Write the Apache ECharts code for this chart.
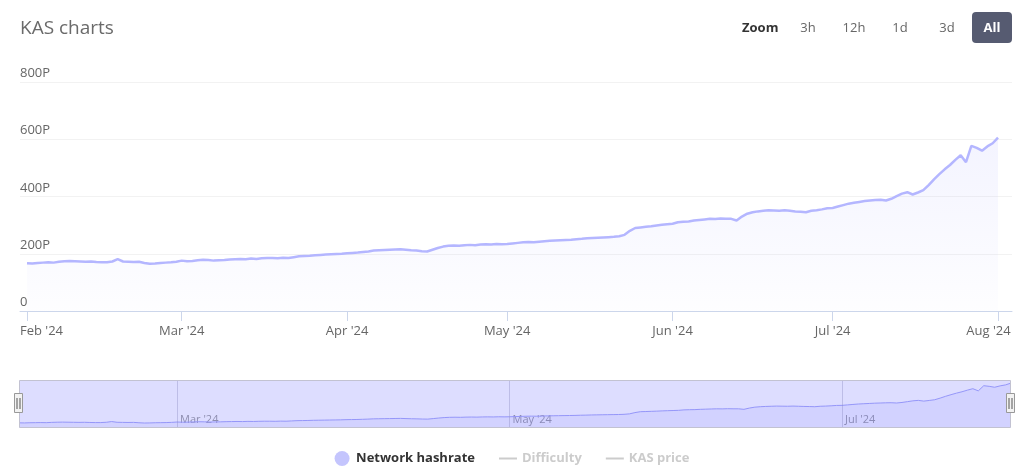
<!DOCTYPE html>
<html>
<head>
<meta charset="utf-8">
<script src="https://cdn.jsdelivr.net/npm/echarts@6/dist/echarts.min.js"></script>
<style>
  html, body { margin: 0; padding: 0; background: #ffffff; }
  #chart { width: 1024px; height: 476px; }
</style>
</head>
<body>
<div id="chart"></div>
<script>
// Day 0 = 1 Feb 2024, one value per day (PH/s)
const hashrate = [
  // Feb
  167,166,168,169,170,169,172,174,175,174,173,172,173,171,170,170,173,181,173,172,171,172,168,165,166,168,169,170,172,
  // Mar
  176,174,175,177,179,178,176,177,178,180,181,182,181,183,182,184,185,185,184,186,185,188,191,192,193,195,196,197,198,199,200,
  // Apr
  202,203,204,206,208,211,212,213,214,215,216,214,212,211,209,208,214,220,225,228,229,228,230,231,230,232,233,232,234,233,
  // May
  234,236,238,240,241,240,242,244,245,246,247,248,249,251,252,254,255,256,257,258,259,261,266,280,290,292,294,296,299,301,303,
  // Jun
  305,310,312,313,316,318,320,322,321,323,322,322,316,330,340,345,348,350,352,351,350,352,350,348,347,345,350,352,355,359,
  // Jul
  360,365,370,375,378,381,384,386,388,389,386,392,401,410,415,407,414,422,440,460,478,495,510,528,544,520,577,570,560,575,586,
  // Aug
  606
];
const monthTicks = [0, 29, 60, 90, 121, 151, 182];
const monthLabels = ["Feb '24", "Mar '24", "Apr '24", "May '24", "Jun '24", "Jul '24", "Aug '24"];
const navTicks = [29, 90, 151];
const yTicks = [0, 200, 400, 600, 800];
const legendNames = ['Network hashrate', 'Difficulty', 'KAS price'];
const zoomButtons = ['3h', '12h', '1d', '3d', 'All'];

const FONT = "'Open Sans', 'Noto Sans', sans-serif";
const seriesData = hashrate.map((v, i) => [i, v]);
const labelFor = v => { const i = monthTicks.indexOf(Math.round(v)); return i >= 0 ? monthLabels[i] : ''; };

const chart = echarts.init(document.getElementById('chart'), null, { renderer: 'canvas' });

const btnX = [808, 854, 900, 947, 992];
const graphics = [
  { type: 'text', x: 20, y: 29, style: { text: 'KAS charts', fill: '#6a6a6a', font: '19px ' + FONT, verticalAlign: 'middle', align: 'left' } },
  { type: 'text', x: 742, y: 28, style: { text: 'Zoom', fill: '#333', font: 'bold 13px ' + FONT, verticalAlign: 'middle', align: 'left' } },
  { type: 'rect', shape: { x: 972, y: 12, width: 40, height: 31, r: 4 }, style: { fill: '#565b71' } }
];
zoomButtons.forEach((b, i) => {
  const isAll = b === 'All';
  graphics.push({ type: 'text', x: btnX[i], y: 28, z: 10,
    style: { text: b, fill: isAll ? '#fff' : '#666', font: (isAll ? 'bold ' : '') + '13px ' + FONT, align: 'center', verticalAlign: 'middle' } });
});
// navigator mask + handles
graphics.push({ type: 'rect', z: 20, silent: true, shape: { x: 19.5, y: 380.5, width: 991, height: 47 },
  style: { fill: 'rgba(102,102,255,0.22)', stroke: '#c2c2d2', lineWidth: 1 } });
[14.5, 1006.5].forEach(hx => {
  graphics.push({ type: 'rect', z: 21, shape: { x: hx, y: 393.5, width: 8, height: 19 }, style: { fill: '#f2f2f2', stroke: '#999', lineWidth: 1 } });
  graphics.push({ type: 'line', z: 22, shape: { x1: hx + 2.5, y1: 398, x2: hx + 2.5, y2: 409 }, style: { stroke: '#555', lineWidth: 1 } });
  graphics.push({ type: 'line', z: 22, shape: { x1: hx + 5.5, y1: 398, x2: hx + 5.5, y2: 409 }, style: { stroke: '#555', lineWidth: 1 } });
});

const lineIcon = 'path://M0,0H18V2H0Z';

chart.setOption({
  animation: false,
  backgroundColor: '#ffffff',
  textStyle: { fontFamily: FONT },
  graphic: graphics,
  legend: {
    bottom: 5,
    left: 'center',
    itemWidth: 18,
    itemHeight: 15,
    itemGap: 24,
    inactiveColor: '#cccccc',
    textStyle: { fontFamily: FONT, fontSize: 13, fontWeight: 'bold', color: '#333' },
    data: [
      { name: legendNames[0], icon: 'circle', itemStyle: { color: '#c4c5fd' } },
      { name: legendNames[1], icon: lineIcon },
      { name: legendNames[2], icon: lineIcon }
    ],
    selected: { 'Difficulty': false, 'KAS price': false }
  },
  grid: [
    { left: 20, right: 12, top: 82, bottom: 165, containLabel: false },
    { left: 19, right: 13, top: 380, height: 48, containLabel: false }
  ],
  xAxis: [
    {
      type: 'value', gridIndex: 0, min: -1.31, max: 184.62,
      axisLine: { show: true, lineStyle: { color: '#ccd6eb', width: 1 } },
      axisTick: { show: true, length: 10, customValues: monthTicks, lineStyle: { color: '#ccd6eb' } },
      splitLine: { show: false },
      axisLabel: {
        customValues: monthTicks, margin: 14, color: '#666', fontSize: 13, fontFamily: FONT,
        formatter: v => {
          const t = labelFor(v);
          if (Math.round(v) === monthTicks[0]) return '{first|' + t + '}';
          if (Math.round(v) === monthTicks[monthTicks.length - 1]) return '{last|' + t + '}';
          return t;
        },
        rich: {
          first: { padding: [0, 0, 0, 29], color: '#666', fontSize: 13, fontFamily: FONT },
          last: { padding: [0, 19, 0, 0], color: '#666', fontSize: 13, fontFamily: FONT }
        }
      }
    },
    {
      type: 'value', gridIndex: 1, min: 0, max: 182,
      axisLine: { show: false }, axisTick: { show: false }, splitLine: { show: false },
      axisLabel: {
        customValues: navTicks, inside: true, margin: 3, align: 'left', padding: [0, 0, 0, 3],
        color: '#999', fontSize: 11, fontFamily: FONT, formatter: v => labelFor(v)
      }
    }
  ],
  yAxis: [
    {
      type: 'value', gridIndex: 0, min: 0, max: 800, interval: 200,
      axisLine: { show: false }, axisTick: { show: false },
      splitLine: { show: true, lineStyle: { color: '#f2f2f2', width: 1 } },
      axisLabel: {
        inside: true, margin: 0, align: 'left', verticalAlign: 'bottom', padding: [0, 0, 2, 0],
        color: '#666', fontSize: 13, fontFamily: FONT,
        formatter: v => (v === 0 ? '0' : v + 'P')
      }
    },
    { type: 'value', gridIndex: 1, min: 110, max: 640, show: false }
  ],
  series: [
    {
      name: legendNames[0], type: 'line', xAxisIndex: 0, yAxisIndex: 0,
      data: seriesData, showSymbol: false, symbol: 'none', smooth: false,
      color: '#b4b6ff',
      lineStyle: { color: '#b4b6ff', width: 2.5 },
      areaStyle: {
        color: new echarts.graphic.LinearGradient(0, 0, 0, 1, [
          { offset: 0, color: 'rgba(180,182,255,0.22)' },
          { offset: 1, color: 'rgba(180,182,255,0.03)' }
        ])
      },
      z: 3
    },
    { name: legendNames[1], type: 'line', data: [], color: '#cccccc' },
    { name: legendNames[2], type: 'line', data: [], color: '#cccccc' },
    {
      name: 'nav', type: 'line', xAxisIndex: 1, yAxisIndex: 1,
      data: seriesData, showSymbol: false, symbol: 'none',
      lineStyle: { color: '#a3a5f8', width: 1 },
      areaStyle: { color: 'rgba(130,130,255,0.16)' },
      markLine: {
        silent: true, symbol: 'none', label: { show: false },
        lineStyle: { color: 'rgba(140,140,170,0.35)', width: 1, type: 'solid' },
        data: navTicks.map(t => ({ xAxis: t }))
      }
    }
  ]
});
</script>
</body>
</html>
